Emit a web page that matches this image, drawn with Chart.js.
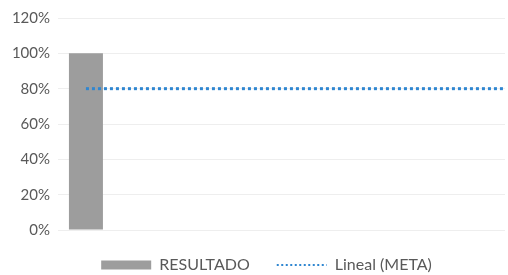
<!DOCTYPE html>
<html>
<head>
<meta charset="utf-8">
<script src="https://cdn.jsdelivr.net/npm/chart.js@4"></script>
<style>
  body { margin: 0; background: #fff; }
</style>
</head>
<body>
<canvas id="chart" width="508" height="275"></canvas>
<script>
// periods on the x axis (no labels shown in the original)
const categories = ['1', '2', '3', '4', '5', '6', '7', '8'];
const resultadoValues = [100, null, null, null, null, null, null, null];
// linear trend of META, from the first period forward to the end of the axis
const trendX = [1, 8.5];
const trendY = [80, 80];
const yTicks = [0, 20, 40, 60, 80, 100, 120];

const textColor = '#595959';

// the original legend sits a bit right of the canvas centre
const legendShift = {
    id: 'legendShift',
    afterLayout: chart => {
        chart.legend.left += 14;
        chart.legend.right += 14;
    }
};

new Chart(document.getElementById('chart'), {
    type: 'bar',
    data: {
        labels: categories,
        datasets: [
            {
                type: 'bar',
                label: 'RESULTADO',
                xAxisID: 'x',
                yAxisID: 'y',
                order: 1,
                data: resultadoValues,
                backgroundColor: '#9d9d9d',
                borderWidth: 0,
                grouped: false,      // otherwise the line counts as a second slot
                maxBarThickness: 34,
                pointStyle: 'rect'
            },
            {
                type: 'line',
                label: 'Lineal (META)',
                xAxisID: 'x2',
                yAxisID: 'y',
                order: 0,            // drawn over the bar
                data: trendX.map((x, i) => ({ x: x, y: trendY[i] })),
                borderColor: '#2f86d1',
                borderWidth: 3,
                borderDash: [3, 3],
                pointRadius: 0,
                pointStyle: 'line',
                fill: false
            }
        ]
    },
    options: {
        responsive: false,
        animation: false,
        layout: { padding: { top: 18, right: 3, bottom: 0, left: 0 } },
        scales: {
            x: { type: 'category', display: false, offset: true },
            x2: {
                type: 'linear',
                display: false,
                offset: false,
                min: 0.5,
                max: 8.5
            },
            y: {
                min: yTicks[0],
                max: yTicks[yTicks.length - 1],
                afterFit: s => { s.width = 58; },
                afterBuildTicks: s => { s.ticks = yTicks.map(v => ({ value: v })); },
                ticks: {
                    padding: 8,
                    color: textColor,
                    font: { family: 'Lato', size: 15 },
                    callback: v => v + '%'
                },
                grid: { color: '#eeeeee', drawTicks: false },
                border: { display: false }
            }
        },
        plugins: {
            tooltip: { enabled: false },
            legend: {
                position: 'bottom',
                maxHeight: 45,
                labels: {
                    usePointStyle: true,
                    pointStyleWidth: 50,
                    boxHeight: 9,
                    padding: 27,
                    color: textColor,
                    font: { family: 'Lato', size: 16 },
                    sort: (a, b) => a.datasetIndex - b.datasetIndex,
                    generateLabels: chart => {
                        const items = Chart.defaults.plugins.legend.labels.generateLabels(chart);
                        items.forEach(item => {
                            if (chart.data.datasets[item.datasetIndex].type === 'line') {
                                item.lineDash = [2, 2.5];
                                item.lineWidth = 2;
                            }
                        });
                        return items;
                    }
                }
            }
        }
    },
    plugins: [legendShift]
});
</script>
</body>
</html>
